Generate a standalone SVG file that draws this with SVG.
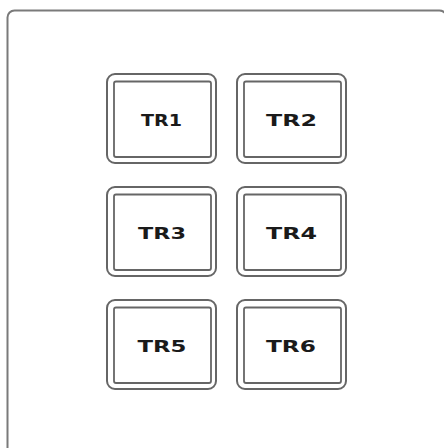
<svg xmlns="http://www.w3.org/2000/svg" width="444" height="448" viewBox="0 0 444 448">
<style>
.frame{fill:none;stroke:#7a7a7a;stroke-width:2}
.outer{fill:#fff;stroke:#666;stroke-width:2}
.inner{fill:#fff;stroke:#666;stroke-width:1.8}
.lbl{font-family:"DejaVu Sans","Liberation Sans",sans-serif;font-weight:bold;font-size:15px;fill:#1a1a1a;text-anchor:middle}
</style>
<rect width="444" height="448" fill="#fff"/>
<rect class="frame" x="7.5" y="10.5" width="439" height="470" rx="7"/>
<g id="TR1">
<rect class="outer" x="107" y="74" width="109" height="89" rx="8"/>
<rect class="inner" x="114" y="81.5" width="97" height="75.5" rx="2"/>
<text class="lbl" x="161.5" y="125.5" textLength="41" lengthAdjust="spacingAndGlyphs">TR1</text>
</g>
<g id="TR2">
<rect class="outer" x="237" y="74" width="109" height="89" rx="8"/>
<rect class="inner" x="244" y="81.5" width="97" height="75.5" rx="2"/>
<text class="lbl" x="291.5" y="125.5" textLength="51" lengthAdjust="spacingAndGlyphs">TR2</text>
</g>
<g id="TR3">
<rect class="outer" x="107" y="187" width="109" height="89" rx="8"/>
<rect class="inner" x="114" y="194.5" width="97" height="75.5" rx="2"/>
<text class="lbl" x="162" y="238.5" textLength="48" lengthAdjust="spacingAndGlyphs">TR3</text>
</g>
<g id="TR4">
<rect class="outer" x="237" y="187" width="109" height="89" rx="8"/>
<rect class="inner" x="244" y="194.5" width="97" height="75.5" rx="2"/>
<text class="lbl" x="291.5" y="238.5" textLength="51" lengthAdjust="spacingAndGlyphs">TR4</text>
</g>
<g id="TR5">
<rect class="outer" x="107" y="300" width="109" height="89" rx="8"/>
<rect class="inner" x="114" y="307.5" width="97" height="75.5" rx="2"/>
<text class="lbl" x="162" y="351.5" textLength="49" lengthAdjust="spacingAndGlyphs">TR5</text>
</g>
<g id="TR6">
<rect class="outer" x="237" y="300" width="109" height="89" rx="8"/>
<rect class="inner" x="244" y="307.5" width="97" height="75.5" rx="2"/>
<text class="lbl" x="291" y="351.5" textLength="50" lengthAdjust="spacingAndGlyphs">TR6</text>
</g>
<g id="connectors"/>
</svg>
